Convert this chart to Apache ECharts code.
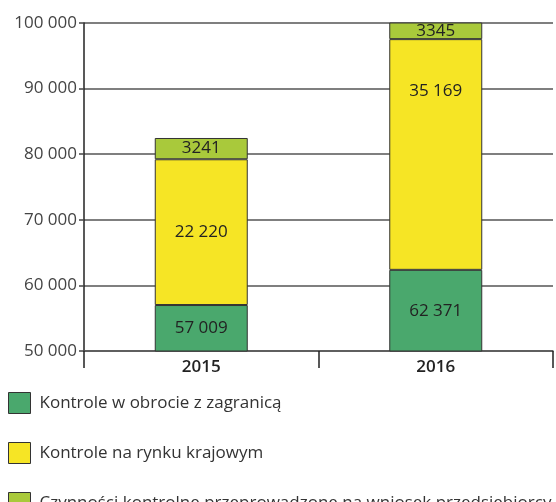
<!DOCTYPE html>
<html style="height: 100%">
<head>
<meta charset="utf-8">
</head>
<body style="height: 100%; margin: 0; background: #fff">
<div id="container" style="width: 556px; height: 502px"></div>
<script type="text/javascript" src="https://cdn.jsdelivr.net/npm/echarts@6/dist/echarts.min.js"></script>
<script type="text/javascript">
var years = ['2015', '2016'];
var seriesNames = [
    'Kontrole w obrocie z zagranicą',
    'Kontrole na rynku krajowym',
    'Czynności kontrolne przeprowadzone na wniosek przedsiębiorcy'
];
var foreignTrade = [57009, 62371];
var domesticMarket = [22220, 35169];
var onRequest = [3241, 3345];
var yTicks = { min: 50000, max: 100000, step: 10000 };

var colors = ['#4aa86d', '#f6e525', '#a9c93b'];
var font = 'Open Sans';

// thousands separated by a space, but only from 10 000 up
function fmt(v) {
    if (v < 10000) return String(v);
    return String(v).replace(/\B(?=(\d{3})+(?!\d))/g, ' ');
}

var dom = document.getElementById('container');
var myChart = echarts.init(dom);

var barLabel = {
    show: true,
    position: 'inside',
    color: '#222',
    fontFamily: font,
    fontSize: 17,
    formatter: function (p) { return fmt(p.value); }
};

function makeSeries(name, data, color, idx) {
    return {
        name: name,
        type: 'bar',
        stack: 'total',
        barWidth: 93,
        itemStyle: { color: color, borderColor: '#333', borderWidth: 1 },
        label: barLabel,
        data: data.map(function (v, i) {
            // second year's domestic value label sits near the top of its block
            if (idx === 1 && i === 1) {
                return { value: v, label: { position: 'insideTop', distance: 44 } };
            }
            return v;
        })
    };
}

// one legend per row so the long third entry never wraps to a second column
var legends = seriesNames.map(function (name, i) {
    return {
        orient: 'vertical',
        left: 8,
        top: 392 + i * 50,
        padding: 0,
        itemWidth: 22,
        itemHeight: 21,
        icon: 'rect',
        itemStyle: { borderColor: '#333', borderWidth: 1 },
        textStyle: { fontSize: 17, color: '#333', fontFamily: font, padding: [0, 0, 0, 4] },
        data: [name]
    };
});

var option = {
    animation: false,
    backgroundColor: '#fff',
    textStyle: { fontFamily: font },
    grid: { left: 84, right: 3, top: 23, bottom: 151 },
    legend: legends,
    xAxis: {
        type: 'category',
        data: years,
        axisLine: { lineStyle: { color: '#555', width: 1.5 } },
        axisTick: { show: true, length: 17, lineStyle: { color: '#222', width: 1.5 } },
        axisLabel: { fontSize: 17, color: '#222', fontWeight: 600, fontFamily: font, margin: 8 }
    },
    yAxis: {
        type: 'value',
        min: yTicks.min,
        max: yTicks.max,
        interval: yTicks.step,
        axisLine: { show: true, lineStyle: { color: '#222', width: 1.5 } },
        axisTick: { show: true, length: 5, lineStyle: { color: '#444', width: 1.5 } },
        axisLabel: {
            fontSize: 17,
            color: '#444',
            fontFamily: font,
            margin: 7,
            formatter: function (v) { return fmt(v); }
        },
        splitLine: { lineStyle: { color: '#555', width: 1.5 } }
    },
    series: [
        makeSeries(seriesNames[0], foreignTrade, colors[0], 0),
        makeSeries(seriesNames[1], domesticMarket, colors[1], 1),
        makeSeries(seriesNames[2], onRequest, colors[2], 2)
    ]
};

myChart.setOption(option);
</script>
</body>
</html>
